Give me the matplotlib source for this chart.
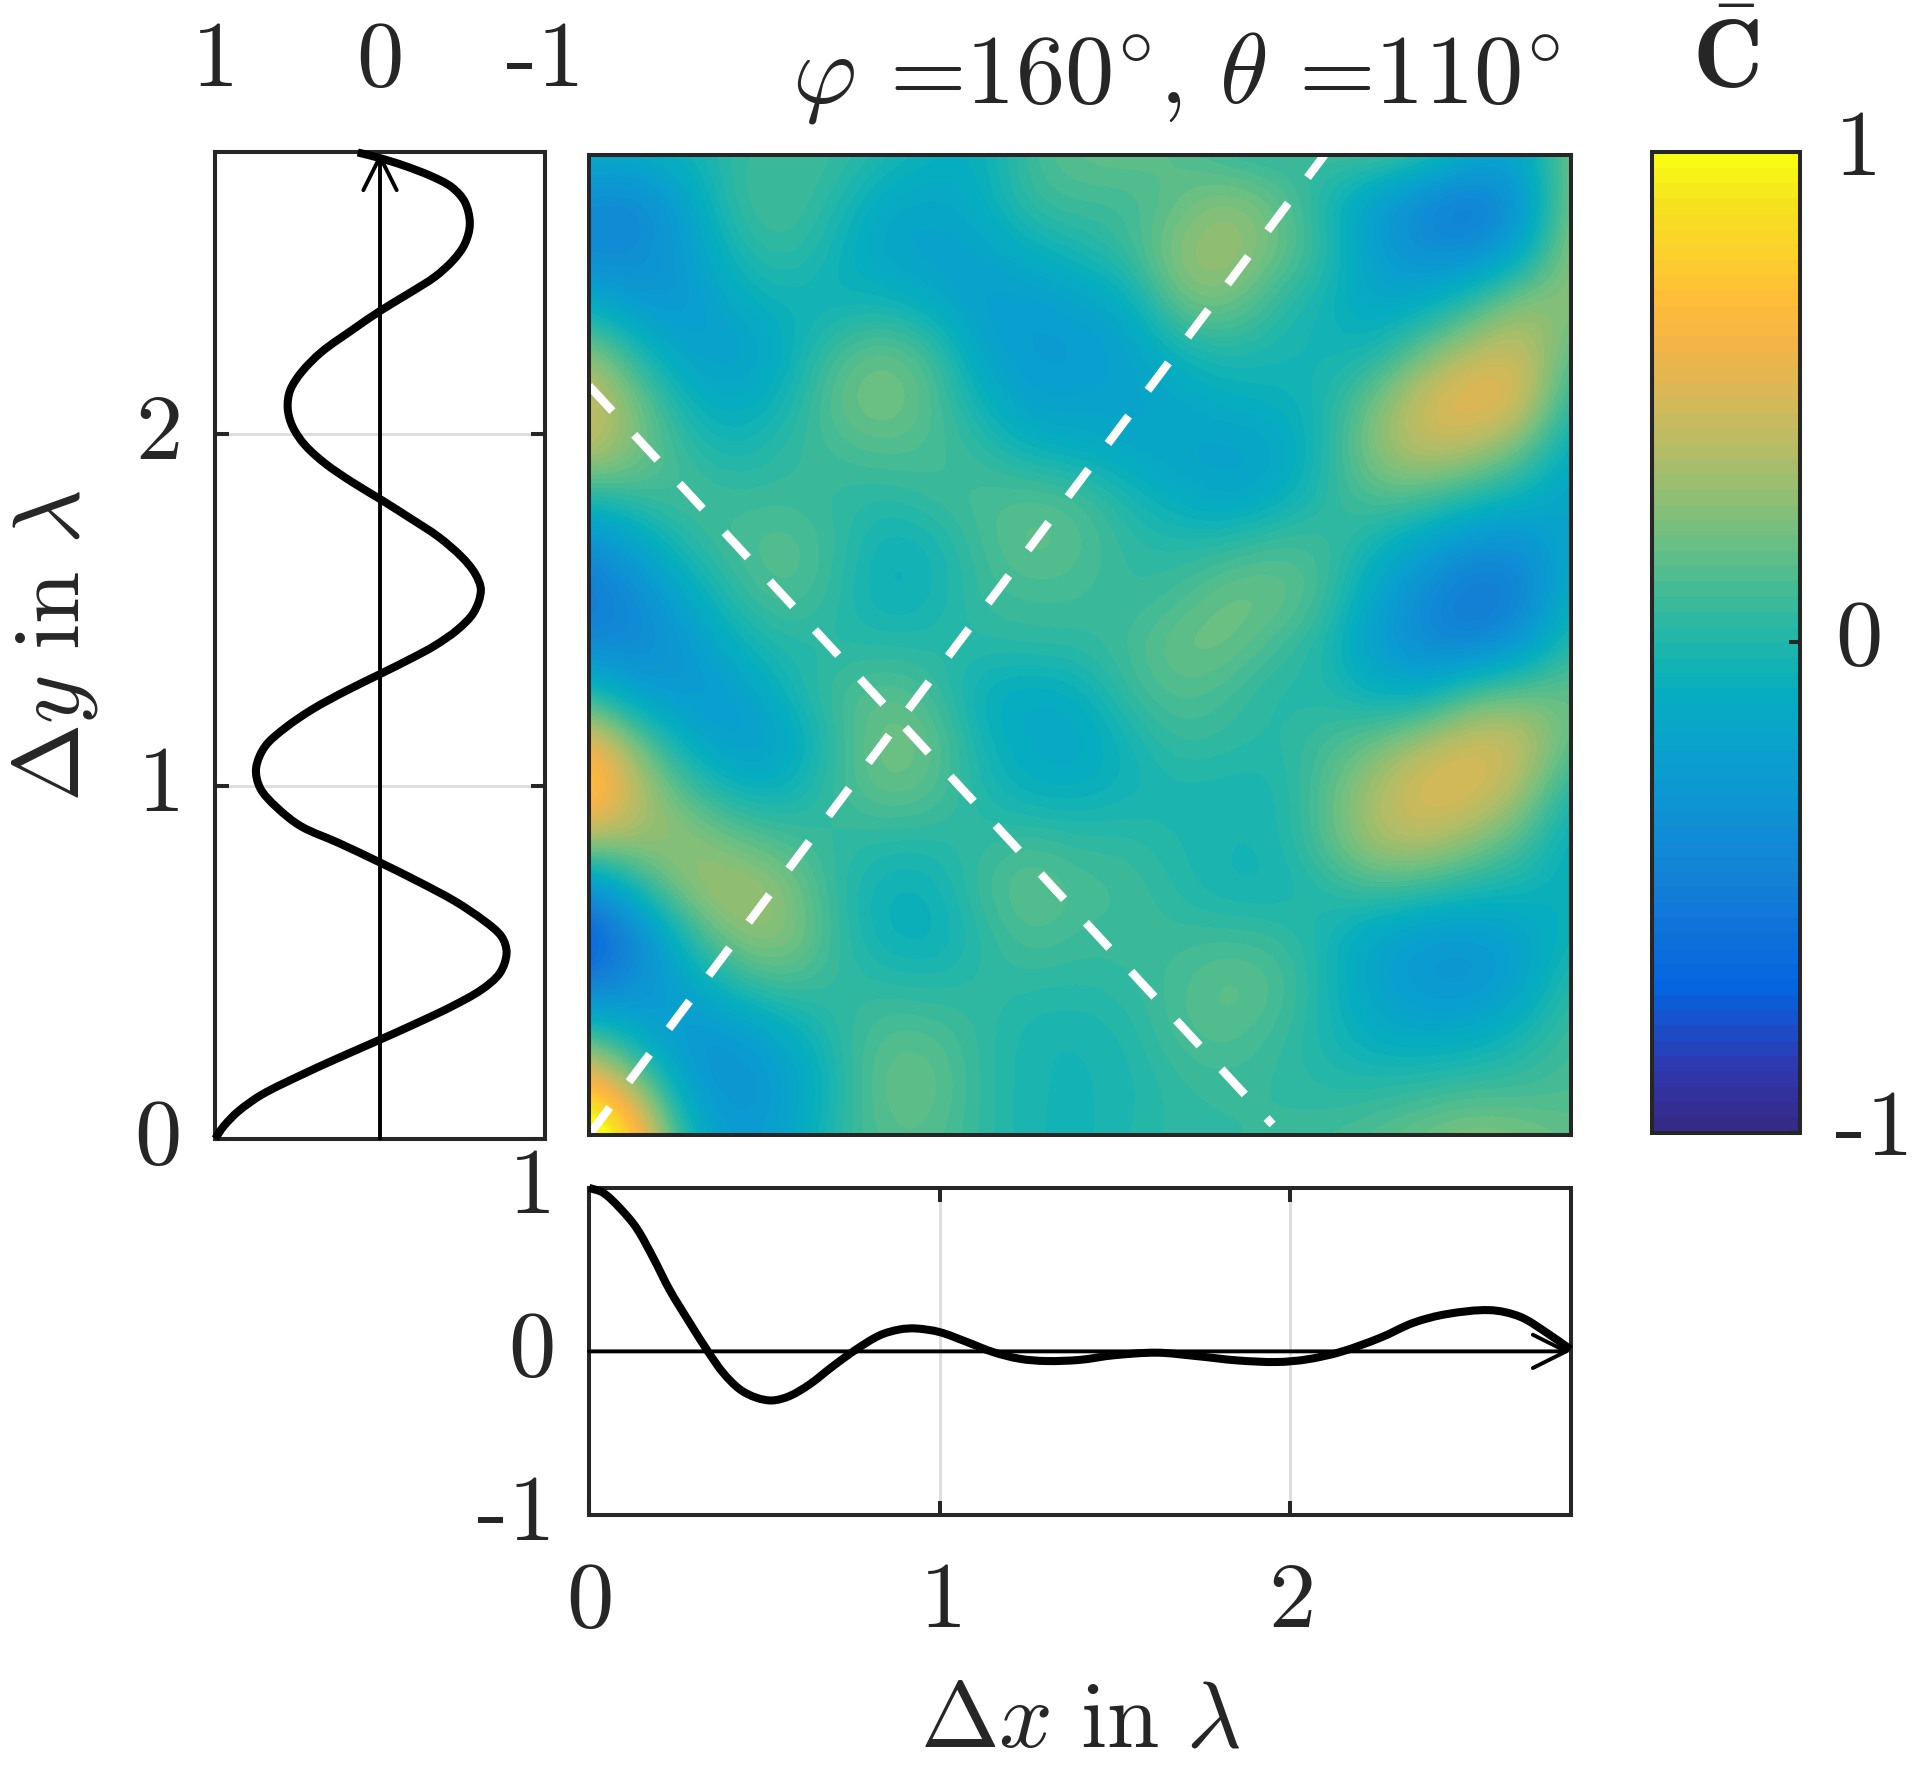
import numpy as np
import matplotlib
matplotlib.use("Agg")
import matplotlib.pyplot as plt
from matplotlib.colors import LinearSegmentedColormap
from matplotlib.path import Path
from matplotlib.patches import PathPatch
from matplotlib.transforms import ScaledTranslation

plt.rcParams['mathtext.fontset'] = 'cm'
plt.rcParams['font.family'] = ['cmr10', 'DejaVu Sans']
plt.rcParams['axes.formatter.use_mathtext'] = True

DARK = '#262626'
GRID = '#dedede'

# Reference data
y_left = [0,.035,.078,.125,.177,.229,.281,.330,.375,.423,.470,.527,.574,.617,.674,.730,.784,.840,.887,.942,.995,1.052,
          1.114,1.166,1.218,1.27,1.319,1.364,1.400,1.445,1.495,1.557,1.605,1.652,1.709,1.765,1.816,1.865,1.917,1.969,
          2.021,2.073,2.125,2.177,2.234,2.295,2.35,2.399,2.447,2.494,2.541,2.598,2.659,2.702,2.733,2.762,2.784,2.80]
c_left = [1.0,.949,.859,.717,.495,.253,0,-.232,-.434,-.616,-.727,-.768,-.737,-.636,-.455,-.232,0,.253,.48,.63,.727,.752,
          .697,.576,.414,.212,0,-.192,-.333,-.47,-.57,-.612,-.576,-.495,-.354,-.172,0,.172,.333,.455,
          .53,.56,.545,.475,.354,.172,0,-.172,-.333,-.444,-.515,-.545,-.515,-.434,-.31,-.15,0,.135]
x_bottom = [0,.04,.087,.135,.183,.23,.287,.339,.382,.43,.477,.523,.572,.629,.696,.762,.829,.886,.933,1.0,1.076,1.152,
            1.228,1.304,1.40,1.496,1.62,1.734,1.848,1.962,2.048,2.143,2.257,2.352,2.447,2.57,2.656,2.732,2.8]
c_bottom = [1,.97,.878,.755,.572,.375,.175,0,-.13,-.232,-.283,-.30,-.273,-.202,-.09,.012,.098,.134,.14,.118,.059,-.004,
            -.045,-.059,-.052,-.024,-.008,-.029,-.055,-.065,-.049,-.004,.083,.175,.228,.252,.212,.114,.012]
grid_rows = [
 [-.12,-.1,-.05,.05,.1,.08,0,-.08,-.1,.1,.18,.2,.15,.05,.02,.1,.15,.08,-.12,-.2,.25],
 [-.4,-.45,-.2,.08,.12,.02,-.15,-.18,-.12,.08,.1,.08,.18,.3,.2,-.02,-.25,-.45,-.58,-.35,.28],
 [-.42,-.4,-.25,-.02,.08,-.05,-.2,-.22,-.2,-.1,-.02,.08,.3,.36,.22,.05,-.25,-.38,-.4,-.18,.32],
 [-.15,-.3,-.3,-.12,-.05,-.08,-.05,-.15,-.25,-.25,-.2,-.12,.22,.25,.05,-.05,-.18,-.15,.05,.3,.28],
 [.3,-.02,-.22,-.25,-.12,.1,.2,.1,-.2,-.27,-.27,-.22,-.05,.02,-.02,-.05,-.05,.2,.4,.48,.15],
 [.5,.22,-.08,-.15,-.05,.18,.27,.15,-.08,-.24,-.22,-.2,-.18,-.1,-.08,-.02,.22,.5,.62,.55,0],
 [.45,.25,.05,-.05,.05,.1,.15,.12,.05,-.08,-.12,-.18,-.2,-.22,-.2,0,.3,.45,.4,.2,-.12],
 [0,.08,.12,.08,.08,.05,.02,.08,.12,.15,.12,-.02,-.12,-.2,-.12,.02,.15,.12,0,-.08,-.22],
 [-.4,-.2,.02,.12,.18,.08,-.08,-.05,.1,.2,.15,.05,.02,.05,.12,.1,-.05,-.22,-.35,-.38,-.15],
 [-.55,-.4,-.15,.05,.15,.05,-.1,-.05,.08,.1,.1,.05,.1,.22,.22,.1,-.18,-.4,-.58,-.5,-.1],
 [-.42,-.42,-.3,-.08,.02,.02,.02,.02,.03,.05,.05,.1,.22,.22,.1,0,-.25,-.42,-.48,-.3,.05],
 [.02,-.25,-.3,-.25,-.05,.1,.18,.1,-.1,-.15,-.1,.08,.15,.1,0,.02,-.1,-.12,.15,.2,.2],
 [.65,.22,-.12,-.28,-.2,.05,.25,.2,-.05,-.15,-.18,-.05,.08,.05,.02,.1,.2,.38,.5,.48,.15],
 [.85,.42,.12,-.05,-.08,.08,.2,.15,0,-.1,-.1,-.05,-.02,-.03,-.03,.15,.38,.55,.55,.35,-.02],
 [.35,.32,.32,.2,.12,.05,.02,.02,.05,.1,.05,.05,0,-.03,-.03,.15,.38,.42,.28,.12,-.12],
 [-.4,-.02,.3,.38,.28,.05,-.08,-.08,.1,.2,.12,.1,.02,-.05,-.05,.02,.1,.05,-.02,-.05,-.1],
 [-.8,-.45,0,.28,.3,.08,-.08,-.1,.02,.14,.08,.08,.08,.1,.08,-.02,-.2,-.28,-.3,-.22,-.05],
 [-.5,-.35,-.2,0,.1,.05,.05,.02,.05,.03,.02,.05,.12,.2,.15,-.02,-.2,-.3,-.32,-.2,.05],
 [.15,-.15,-.32,-.3,-.15,.02,.15,.15,.05,-.03,-.04,0,.12,.15,.08,-.02,-.12,-.15,-.12,-.02,.1],
 [.75,.32,-.25,-.35,-.25,-.02,.2,.2,.05,-.03,-.04,-.02,.05,.08,.05,.02,.02,.05,.08,.08,.12],
 [1.3,.75,-.05,-.3,-.2,.02,.15,.15,.05,-.03,-.05,0,.05,.05,.08,.1,.15,.22,.28,.25,.18],
]
dash1_x, dash1_y = [0, 2.098], [0, 2.8]
dash2_x, dash2_y = [0, 1.95], [2.14, 0.03]
ticks_main = [0, 1, 2]
ticks_c = [-1, 0, 1]
limit = 2.8

cmap_colors = ['#352a87', '#3038b0', '#0563e0', '#1480d6', '#0a9ed0', '#06aebf', '#1fb6ab', '#40bb96',
               '#68bf85', '#8fbf73', '#b5bc66', '#d4b958', '#f0b44a', '#ffbb3a', '#fdcf2c', '#f6e020', '#f9fb15']
cmap_pos = [0, .06, .14, .25, .375, .45, .5, .55, .6, .65, .7, .75, .8, .85, .9, .95, 1]
parula = LinearSegmentedColormap.from_list('parula_like', list(zip(cmap_pos, cmap_colors)), N=64)

W, H = 1568.5, 1437.0
fig = plt.figure(figsize=(19.29, 17.67), dpi=100, facecolor='white')
def box(x0, y0, x1, y1):
    return [x0 / W, 1 - y1 / H, (x1 - x0) / W, (y1 - y0) / H]
def put(x, y, s, **kw):
    kw.setdefault('color', DARK)
    fig.text(x / W, 1 - y / H, s, **kw)
def lift(labels, pts):
    off = ScaledTranslation(0, pts / 72, fig.dpi_scale_trans)
    for t in labels:
        t.set_transform(t.get_transform() + off)

def smooth_curve(a, xs, ys, lw):
    """Stroke a curve through the read points: chord-length Bezier segments, built in pixel space."""
    P = a.transData.transform(np.column_stack([xs, ys]))
    d = np.hypot(*(P[1:] - P[:-1]).T)
    T = np.zeros_like(P)
    T[1:-1] = (P[2:] - P[:-2]) / (d[1:] + d[:-1])[:, None]
    T[0] = (P[1] - P[0]) / d[0]
    T[-1] = (P[-1] - P[-2]) / d[-1]
    verts, codes = [P[0]], [Path.MOVETO]
    for i in range(len(P) - 1):
        verts += [P[i] + T[i] * d[i] / 3, P[i + 1] - T[i + 1] * d[i] / 3, P[i + 1]]
        codes += [Path.CURVE4] * 3
    data = a.transData.inverted().transform(np.array(verts))
    a.add_patch(PathPatch(Path(data, codes), fill=False, edgecolor='black', lw=lw,
                          clip_on=False, capstyle='butt', joinstyle='round', zorder=5))

FS = 68
FW = 2.9
LW = 5.8
ZL = 2.8

ax = fig.add_axes(box(479, 126, 1277, 923))
axl = fig.add_axes(box(175, 124, 443, 926))
axb = fig.add_axes(box(479, 966, 1277, 1232))
cax = fig.add_axes(box(1343, 124, 1464, 921))

Z = np.array(grid_rows)
im = ax.imshow(Z, cmap=parula, vmin=-1, vmax=1, interpolation='bicubic', aspect='auto',
               extent=[-0.07, 2.87, -0.07, 2.87])
ax.set_xlim(0, limit); ax.set_ylim(0, limit)
ax.set_xticks([]); ax.set_yticks([])
for dx, dy in ((dash1_x, dash1_y), (dash2_x, dash2_y)):
    ax.plot(dx, dy, color='white', lw=6, dashes=(4.12, 3.86), dash_capstyle='butt')

# left panel
axl.set_xlim(1, -1); axl.set_ylim(0, limit)
axl.set_yticks(ticks_main)
axl.set_xticks(ticks_c[::-1])
axl.set_xticklabels(['1', '0', '-1'])
axl.xaxis.tick_top()
axl.tick_params(axis='x', length=0, pad=35, labelsize=FS, colors=DARK)
axl.tick_params(axis='y', direction='in', left=True, right=True, length=10, width=FW, pad=26, labelsize=FS, colors=DARK)
axl.grid(axis='y', color=GRID, lw=2.2)
axl.set_axisbelow(True)
axl.annotate('', xy=(0, limit), xytext=(0, 0),
             arrowprops=dict(arrowstyle='->', color='black', lw=ZL, mutation_scale=60, shrinkA=0, shrinkB=0), annotation_clip=False)
smooth_curve(axl, c_left, y_left, LW)
lift(axl.get_yticklabels(), 5.4)

# bottom panel
axb.set_xlim(0, limit); axb.set_ylim(-1, 1)
axb.set_xticks(ticks_main); axb.set_yticks(ticks_c)
axb.set_yticklabels(['-1', '0', '1'])
axb.tick_params(axis='x', direction='in', bottom=True, top=True, length=10, width=FW, pad=34, labelsize=FS, colors=DARK)
axb.tick_params(axis='y', length=0, pad=24, labelsize=FS, colors=DARK)
axb.grid(axis='x', color=GRID, lw=2.2)
axb.set_axisbelow(True)
axb.annotate('', xy=(limit, 0), xytext=(0, 0),
             arrowprops=dict(arrowstyle='->', color='black', lw=ZL, mutation_scale=60, shrinkA=0, shrinkB=0), annotation_clip=False)
smooth_curve(axb, x_bottom, c_bottom, LW)
lift(axb.get_yticklabels(), 5.4)

# colorbar
cb = fig.colorbar(im, cax=cax, ticks=ticks_c)
cb.set_ticklabels(['-1', '0', '1'])
cax.tick_params(axis='y', direction='in', length=8, width=FW, pad=25, labelsize=FS, colors=DARK)
cb.outline.set_linewidth(FW)
cb.outline.set_edgecolor(DARK)
lift(cax.get_yticklabels(), 7)

for a in (ax, axl, axb):
    for s in a.spines.values():
        s.set_linewidth(FW)
        s.set_edgecolor(DARK)

put(1268, 83, r'$\varphi$ =160$^{\circ}$, $\theta$ =110$^{\circ}$', ha='right', va='baseline', fontsize=71)
put(1403, 71, r'$\bar{\mathbf{C}}$', ha='center', va='baseline', fontsize=70)
put(878, 1420, r'$\Delta x\ \mathrm{in}\ \lambda$', ha='center', va='baseline', fontsize=FS)
put(81, 525, r'$\Delta y\ \mathrm{in}\ \lambda$', ha='right', va='center', rotation=90, fontsize=FS)

fig.savefig('out.png', dpi=100, facecolor='white')
